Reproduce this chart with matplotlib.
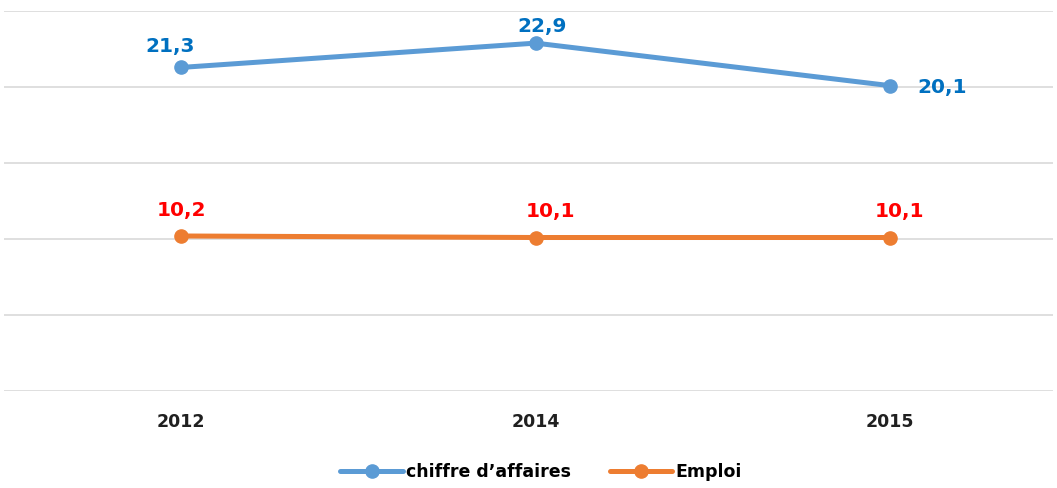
import matplotlib
matplotlib.use("Agg")
import matplotlib.pyplot as plt

# Données
annees = ["2012", "2014", "2015"]
chiffre_affaires = [21.3, 22.9, 20.1]
emploi = [10.2, 10.1, 10.1]

# décalages des étiquettes (en points)
decal_ca = [(-8, 15), (5, 12), (38, -1)]
decal_emploi = [(0, 18), (11, 19), (7, 19)]

bleu = "#5B9BD5"
orange = "#ED7D31"

fig = plt.figure(figsize=(10.57, 4.88), dpi=100)
ax = fig.add_axes([0.004, 0.199, 0.992, 0.778])

x = list(range(len(annees)))
ax.plot(x, chiffre_affaires, color=bleu, lw=3.6, marker="o", ms=9.5,
        solid_capstyle="round", label="chiffre d\u2019affaires", zorder=3)
ax.plot(x, emploi, color=orange, lw=3.6, marker="o", ms=9.5,
        solid_capstyle="round", label="Emploi", zorder=3)

for xi, v, d in zip(x, chiffre_affaires, decal_ca):
    ax.annotate(f"{v:.1f}".replace(".", ","), (xi, v), xytext=d,
                textcoords="offset points", ha="center", va="center",
                color="#0070C0", fontsize=14.5, fontweight="bold")
for xi, v, d in zip(x, emploi, decal_emploi):
    ax.annotate(f"{v:.1f}".replace(".", ","), (xi, v), xytext=d,
                textcoords="offset points", ha="center", va="center",
                color="#FF0000", fontsize=14.5, fontweight="bold")

ax.set_xlim(-0.5, 2.46)
ax.set_ylim(0, 25)
ax.set_yticks([0, 5, 10, 15, 20, 25])
ax.set_yticklabels([])
ax.set_xticks(x)
ax.set_xticklabels(annees, fontsize=12.5, fontweight="bold", color="#202020")
ax.tick_params(axis="both", length=0)
ax.tick_params(axis="x", pad=16)
ax.grid(axis="y", color="#D9D9D9", lw=1.2)
ax.set_axisbelow(True)
for s in ax.spines.values():
    s.set_visible(False)

fig.legend(loc="center", bbox_to_anchor=(0.512, 0.033), ncol=2, frameon=False,
           prop={"size": 12.5, "weight": "bold"}, handlelength=3.6,
           columnspacing=2.2, handletextpad=0.2)

fig.savefig("out.png", dpi=100)
